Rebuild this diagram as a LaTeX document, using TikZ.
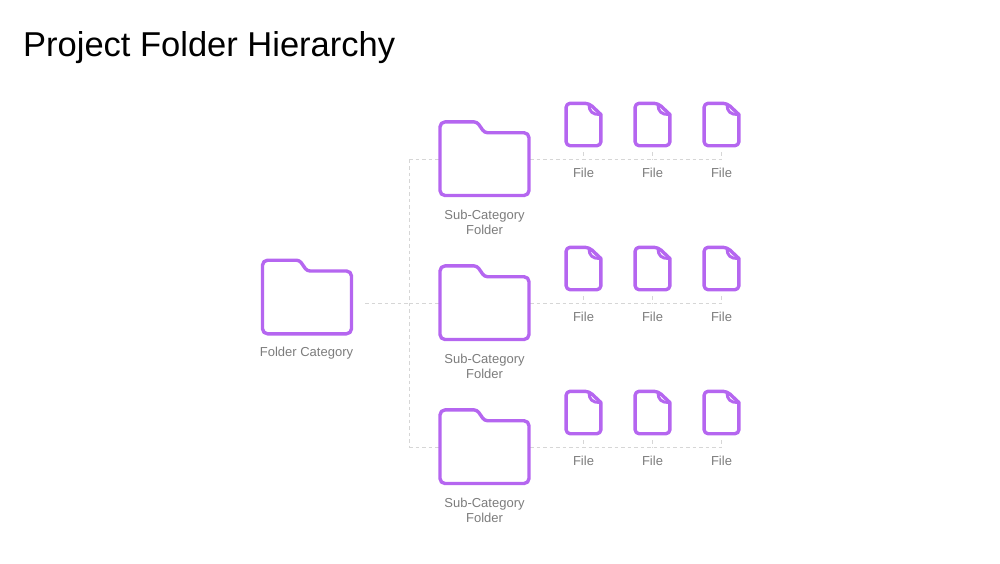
\documentclass[tikz,border=0pt]{standalone}
\usepackage{fontspec}
\setmainfont{Liberation Sans}
\definecolor{iconpurple}{HTML}{B566F0}
\definecolor{linkgray}{HTML}{D6D6D6}
\definecolor{labelgray}{HTML}{7C7C7C}
\tikzset{
  iconline/.style={draw=iconpurple,fill=white,line width=3.4pt,line join=round},
  link/.style={draw=linkgray,line width=1pt,dash pattern=on 3.5pt off 3pt},
  iconbox/.style={inner sep=0pt,minimum width=#1},
  caption/.style={text=labelgray,font=\fontsize{13}{15}\selectfont,align=center,inner sep=0pt},
  folderpic/.pic={
    \draw [iconline,rounded corners=5pt] (-44.5,0) -- (-44.5,-36.8) [rounded corners=3pt] -- (-7.5,-36.8) -- (0,-26)
          [rounded corners=5pt] -- (44.5,-26) -- (44.5,36.8) -- (-44.5,36.8) -- cycle;
  },
  filepic/.pic={
    \draw [iconline,rounded corners=4pt] (-17.4,0) -- (-17.4,-21.2) -- (5.5,-21.2) [sharp corners] -- (17.4,-10)
          [rounded corners=4pt] -- (17.4,21.2) -- (-17.4,21.2) -- cycle;
    \draw [draw=iconpurple,line width=3pt,line join=round] (5.5,-20) .. controls (5.5,-13) and (9,-10) .. (16,-10);
  }
}
\begin{document}
\begin{tikzpicture}[x=1pt,y=-1pt]
\useasboundingbox (0,0) rectangle (1000,563);
\node (title) [anchor=base west,inner sep=0pt,font=\fontsize{34.5}{40}\selectfont] at (23,56) {Project Folder Hierarchy};

\node (root) [iconbox=91pt,minimum height=75pt] at (307,297) {};
\node (rootlabel) [caption] at (306.5,353.5) {Folder Category};
\coordinate (rootout) at (365,303.5);
\coordinate (spine) at (409,303.5);

% rows of one sub-folder and three files
\foreach [count=\r] \y in {159.5,303.5,447.5} {
   \node (sub\r) [iconbox=91pt,minimum height=75pt] at (484.5,\y) {};
   \node (sublabel\r) [caption] at (484.5,\y+63) {Sub-Category\\Folder};
   \foreach [count=\c] \x in {583.5,652.5,721.5} {
      \node (file\r\c) [iconbox=37pt,minimum height=55pt] at (\x,\y-35) {};
      \node (filelabel\r\c) [caption] at (\x,\y+13.5) {File};
      \draw [link] (file\r\c.south) -- (file\r\c.south |- sub\r.center);
   }
   \draw [link] (sub\r.center) -- (file\r3.south |- sub\r.center);
   \draw [link] (spine |- sub\r.center) -- (sub\r.center);
}
\draw [link] (spine |- sub1.center) -- (spine |- sub3.center);
\draw [link] (rootout) -- (spine);

\pic at (root.center) {folderpic};
\foreach \r in {1,2,3} {
   \pic at ([yshift=.8pt]sub\r.center) {folderpic};
   \foreach \c in {1,2,3}
      \pic at (file\r\c.center) {filepic};
}
\end{tikzpicture}
\end{document}
